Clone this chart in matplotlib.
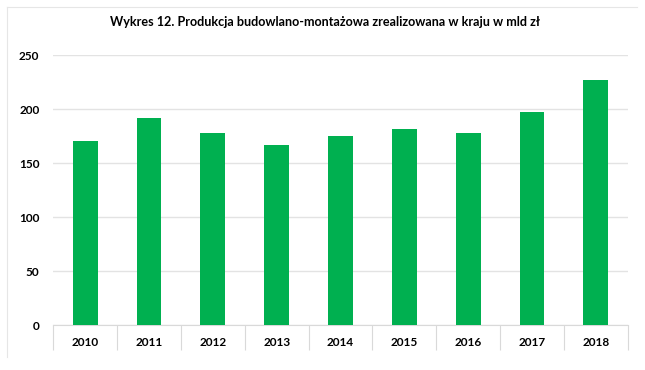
import matplotlib
matplotlib.use("Agg")
import matplotlib.pyplot as plt
from matplotlib.lines import Line2D
import numpy as np

years = ["2010", "2011", "2012", "2013", "2014", "2015", "2016", "2017", "2018"]
values = [170.4, 191.4, 177.5, 167.0, 175.3, 181.8, 177.5, 197.5, 226.9]
y_ticks = [0, 50, 100, 150, 200, 250]
title = "Wykres 12. Produkcja budowlano-montażowa zrealizowana w kraju w mld zł"

plt.rcParams['font.family'] = ['Lato', 'DejaVu Sans']

W, H = 645, 370
fig = plt.figure(figsize=(W / 100, H / 100), dpi=100)
fig.patch.set_facecolor("white")

ax = fig.add_axes([53.3 / W, 1 - 325 / H, (627.7 - 53.3) / W, (325 - 55) / H])
x = np.arange(len(years))
ax.bar(x, values, width=0.39, color="#00B050", zorder=3)

ax.set_xlim(-0.5, len(years) - 0.5)
ax.set_ylim(0, 250)
ax.set_yticks(y_ticks)
ax.set_yticklabels([str(t) for t in y_ticks], fontsize=8.5, fontweight="bold")
ax.set_xticks(x)
ax.set_xticklabels(years, fontsize=8.5, fontweight="bold")
ax.tick_params(axis="x", which="major", length=0, pad=9)
ax.tick_params(axis="y", which="major", length=0, pad=10)
ax.set_xticks(np.arange(-0.5, len(years), 1.0), minor=True)
ax.tick_params(axis="x", which="minor", length=18, color="#D9D9D9", width=0.8)

ax.yaxis.grid(True, color="#E3E3E3", linewidth=1.0, zorder=0)
ax.set_axisbelow(True)
for s in ["top", "right", "left"]:
    ax.spines[s].set_visible(False)
ax.spines["bottom"].set_color("#D9D9D9")
ax.spines["bottom"].set_linewidth(0.8)

fig.text(325 / W, 1 - 22 / H, title, ha="center", va="center",
         fontsize=9.1, fontweight="bold")

# faint outer frame (top and left edges)
fig.add_artist(Line2D([7 / W, 637 / W], [1 - 7 / H, 1 - 7 / H], transform=fig.transFigure,
                      color="#E6E6E6", linewidth=0.8))
fig.add_artist(Line2D([7 / W, 7 / W], [1 - 7 / H, 1 - 357 / H], transform=fig.transFigure,
                      color="#E6E6E6", linewidth=0.8))

fig.savefig("out.png", dpi=100, facecolor="white")
